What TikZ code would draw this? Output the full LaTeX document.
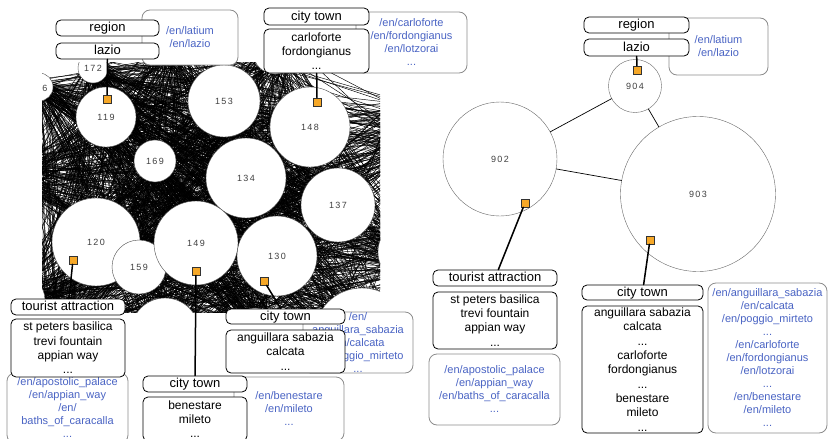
\documentclass[tikz,border=0pt]{standalone}
\usepackage{fontspec}
\setmainfont{Liberation Sans}
\newfontfamily\numfont[LetterSpace=15]{Liberation Sans}
\definecolor{urlblue}{RGB}{74,100,196}
\definecolor{markorange}{RGB}{246,168,40}
\def\hx{{93,39,106,224,310,155,246,338,277,96,139,196,20,20,165,362,412,420,60,255,170,275}}
\def\hy{{68,87,117,101,127,161,178,205,256,242,267,243,175,300,332,336,252,130,335,330,45,52}}
\def\hr{{15,14,30,36,40,21,40,37,40,44,27,42,22,25,34,48,34,40,22,22,20,22}}

\begin{document}
\begin{tikzpicture}[x=1pt,y=-1pt,line cap=round,
  box/.style={draw,rounded corners=5pt,line width=.8pt,fill=white,inner sep=0pt},
  hdr/.style={box,text height=9.5pt,text depth=2.5pt,font=\fontsize{13}{15}\selectfont},
  lst/.style={box,align=center,font=\fontsize{12}{14.3}\selectfont},
  urls/.style={draw=black!45,rounded corners=8pt,line width=.8pt,fill=white,inner sep=0pt,
    align=center,text=urlblue,font=\fontsize{11}{13}\selectfont},
  hub/.style={circle,draw=black!70,line width=.4pt,fill=white,inner sep=0pt,
    text=black!75,font=\numfont\fontsize{9}{9}\selectfont},
  orsq/.style={draw=black!80,line width=.6pt,fill=markorange,minimum size=8pt,inner sep=0pt},
  link/.style={line width=1.5pt}]
  \useasboundingbox (0,0) rectangle (828,439);
  \clip (0,0) rectangle (828,439);

  \begin{scope}
    \clip (42,62) rectangle (380,312);
    \pgfmathsetseed{11}
    \foreach \k in {1,...,1900}{
      \pgfmathrandominteger{\ia}{0}{21}
      \pgfmathrandominteger{\ib}{0}{21}
      \pgfmathtruncatemacro\ib{ifthenelse(\ia==\ib,mod(\ia+5,22),\ib)}
      \pgfmathsetmacro\hxa{\hx[\ia]}
      \pgfmathsetmacro\hya{\hy[\ia]}
      \pgfmathsetmacro\hra{\hr[\ia]}
      \pgfmathsetmacro\hxb{\hx[\ib]}
      \pgfmathsetmacro\hyb{\hy[\ib]}
      \pgfmathsetmacro\hrb{\hr[\ib]}
      \pgfmathsetmacro\angA{atan2(\hyb-\hya,\hxb-\hxa)+80*rnd-40}
      \pgfmathsetmacro\angB{atan2(\hya-\hyb,\hxa-\hxb)+80*rnd-40}
      \draw[line width=.45pt] ({\hxa+\hra*cos(\angA)},{\hya+\hra*sin(\angA)})
        -- ({\hxb+\hrb*cos(\angB)},{\hyb+\hrb*sin(\angB)});
    }
    \foreach \n/\px/\py/\r in {172/93/68/15,119/106/117/30,153/224/101/36,148/310/127/40,
      169/155/161/21,134/246/178/40,137/338/205/37,130/277/256/40,120/96/242/44,
      159/139/267/27,149/196/243/42}
      \node[hub,minimum size=2*\r] (c\n) at (\px,\py) {\n};
    \node[hub,minimum size=28] (c6) at (39,87) {};
    \node[hub,draw=none,fill=none] (c6lab) at (45,88) {6};
    \foreach \px/\py/\r [count=\i] in {20/175/22,20/300/25,165/332/34,362/336/48,412/252/34,
      420/130/40,60/335/22,255/330/22,170/45/20,275/52/22}
      \node[hub,minimum size=2*\r] (h\i) at (\px,\py) {};
  \end{scope}

  \node[hub,draw=black!60,minimum size=53] (c904) at (635,86) {904};
  \node[hub,draw=black!60,minimum size=114] (c902) at (500,159) {902};
  \node[hub,draw=black!60,minimum size=155] (c903) at (698,194) {903};
  \draw[line width=.7pt] (c904) -- (c902) (c904) -- (c903) (c902) -- (c903);

  \node[urls,minimum width=96,minimum height=55] (uRegL) at (190,37.5) {/en/latium\\/en/lazio};
  \node[urls,minimum width=111,minimum height=61] (uCityT) at (411.5,42.5)
    {/en/carloforte\\/en/fordongianus\\/en/lotzorai\\...};
  \node[urls,minimum width=121,minimum height=70] (uTourL) at (67.5,408)
    {/en/apostolic\_palace\\/en/appian\_way\\/en/\\baths\_of\_caracalla\\...};
  \node[urls,minimum width=110,minimum height=64] (uCityM) at (289,409)
    {/en/benestare\\/en/mileto\\...};
  \node[urls,minimum width=110,minimum height=61] (uCityB) at (358,342.5)
    {/en/\\anguillara\_sabazia\\/en/calcata\\/en/poggio\_mirteto\\...};
  \node[urls,minimum width=99,minimum height=57] (uRegR) at (718.5,46.5) {/en/latium\\/en/lazio};
  \node[urls,minimum width=131,minimum height=71] (uTourR) at (494.5,389.5)
    {/en/apostolic\_palace\\/en/appian\_way\\/en/baths\_of\_caracalla\\...};
  \node[urls,minimum width=119,minimum height=150] (uCityR) at (767.5,358)
    {/en/anguillara\_sabazia\\/en/calcata\\/en/poggio\_mirteto\\...\\/en/carloforte\\
     /en/fordongianus\\/en/lotzorai\\...\\/en/benestare\\/en/mileto\\...};

  \node[hdr,minimum width=103,minimum height=16] (regL) at (107.5,28) {region};
  \node[hdr,minimum width=103,minimum height=16] (lazL) at (107.5,51) {lazio};
  \node[hdr,minimum width=105,minimum height=17] (cityT) at (316.5,16.5) {city town};
  \node[lst,minimum width=105,minimum height=44] (cityTl) at (316.5,51) {carloforte\\fordongianus\\...};
  \node[hdr,minimum width=114,minimum height=16] (tourL) at (68,307) {tourist attraction};
  \node[lst,minimum width=114,minimum height=58] (tourLl) at (68,348)
    {st peters basilica\\trevi fountain\\appian way\\...};
  \node[hdr,minimum width=104,minimum height=16] (cityM) at (195,384) {city town};
  \node[lst,minimum width=104,minimum height=44] (cityMl) at (195,419) {benestare\\mileto\\...};
  \node[hdr,minimum width=119,minimum height=15] (cityB) at (285.5,316.5) {city town};
  \node[lst,minimum width=119,minimum height=43] (cityBl) at (285.5,351.5)
    {anguillara sabazia\\calcata\\...};

  \node[hdr,minimum width=105,minimum height=16] (regR) at (636.5,25) {region};
  \node[hdr,minimum width=105,minimum height=17] (lazR) at (636.5,47.5) {lazio};
  \node[hdr,minimum width=124,minimum height=16] (tourR) at (495,278) {tourist attraction};
  \node[lst,minimum width=124,minimum height=57] (tourRl) at (495,320.5)
    {st peters basilica\\trevi fountain\\appian way\\...};
  \node[hdr,minimum width=121,minimum height=15] (cityR) at (642.5,292.5) {city town};
  \node[lst,minimum width=121,minimum height=127] (cityRl) at (642.5,369.5)
    {anguillara sabazia\\calcata\\...\\carloforte\\fordongianus\\...\\benestare\\mileto\\...};

  \foreach \n/\px/\py in {119/107/99,148/317/102,120/73/260,149/196/271,130/264/281,
    904/637/70,902/525/203,903/650/240}
    \node[orsq] (sq\n) at (\px,\py) {};
  \draw[link] (lazL) -- (sq119) (cityTl) -- (sq148) (sq120) -- (tourL) (sq149) -- (cityM)
    (sq130) -- (cityB) (lazR) -- (sq904) (sq902) -- (tourR) (sq903) -- (cityR);
\end{tikzpicture}
\end{document}
